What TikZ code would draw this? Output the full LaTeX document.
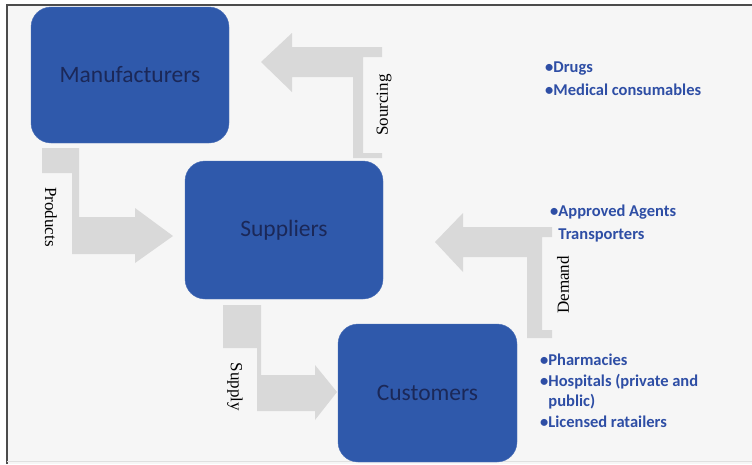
\documentclass[tikz,border=0pt]{standalone}
\usepackage{fontspec}
\setmainfont{Carlito}
\newfontfamily\flowfont{Liberation Serif}
\usetikzlibrary{positioning}
\definecolor{box-blue}{RGB}{47,89,171}
\definecolor{box-text}{RGB}{27,40,88}
\definecolor{list-blue}{RGB}{46,78,165}
\definecolor{arrow-grey}{RGB}{217,217,217}
\definecolor{page-grey}{RGB}{246,246,246}

\begin{document}
\begin{tikzpicture}
  [x=1pt, y=-1pt, actor/.style = {shape=rectangle, rounded corners=20pt,
    fill=box-blue, draw=box-blue!85!white, text=box-text, inner sep=0pt,
    font=\fontsize{23.5}{27}\selectfont}, flow/.style = {fill=arrow-grey},
  flow label/.style = {font=\flowfont\fontsize{17}{20}\selectfont,
    inner sep=0pt}, items/.style = {text=list-blue, align=left,
    anchor=north west, inner sep=0pt,
    font=\bfseries\fontsize{16.5}{23}\selectfont}]

  \useasboundingbox (0,0) rectangle (752,464);
  \fill[page-grey] (7,5) rectangle (752,464);
  \draw[black!70, line width=1.5pt] (7,464) -- (7,5) -- (752,5);
  \draw[black!12] (7,461) -- (752,461);

  \node [actor, minimum width=198pt, minimum height=136pt] (Manuf) at
  (130,75) {Manufacturers}; \node [actor, minimum width=198pt, minimum
  height=138pt] (Suppliers) at (284,230) {Suppliers}; \node [actor,
  minimum width=179pt, minimum height=138pt] (Customers) at (427.5,393)
  {Customers};

  \fill[flow] (261,62) -- (292,33) -- (292,47) -- (382,47) -- (382,57)
  -- (363,57) -- (363,153) -- (382,153) -- (382,158) -- (353,158) --
  (353,77) -- (292,77) -- (292,92) -- cycle; \fill[flow] (42,148) --
  (79,148) -- (79,217) -- (135,217) -- (135,208) -- (173,236) --
  (135,263) -- (135,254) -- (72,254) -- (72,173) -- (42,173) -- cycle;
  \fill[flow] (223,305) -- (261,305) -- (261,375) -- (315,375) --
  (315,365) -- (337,392) -- (315,420) -- (315,411) -- (257,411) --
  (257,348) -- (223,348) -- cycle; \fill[flow] (435,242) -- (463,213)
  -- (463,227) -- (552,227) -- (552,237) -- (542,237) -- (542,330) --
  (552,330) -- (552,338) -- (527,338) -- (527,257) -- (463,257) --
  (463,272) -- cycle;

  \node [flow label, rotate=90] (Sourcing) at (384,105) {Sourcing};
  \node [flow label, rotate=-90] (Products) at (51,217) {Products};
  \node [flow label, rotate=-90] (Supply) at (235,387) {Supply};
  \node [flow label, rotate=90] (Demand) at (563,285) {Demand};

  \node [items] (Goods) at (545,62) {\textbullet Drugs\\
    \textbullet Medical consumables}; \node [items] (Agents) at
  (550,205) {\textbullet Approved Agents\\
    \hphantom{\textbullet}Transporters}; \node [items,
  font=\bfseries\fontsize{16.5}{20.5}\selectfont] (Buyers) at
  (540,354) {\textbullet Pharmacies\\
    \textbullet Hospitals (private and\\
    \hphantom{\textbullet}public)\\
    \textbullet Licensed ratailers};
\end{tikzpicture}
\end{document}
